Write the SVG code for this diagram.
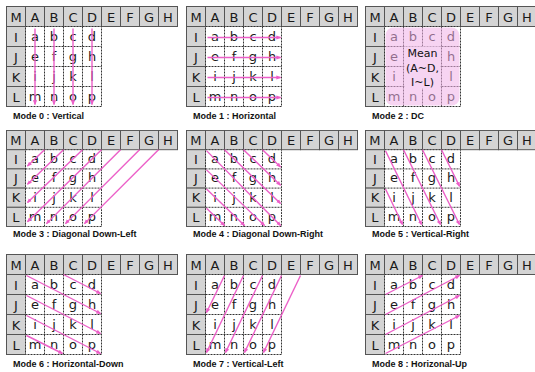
<svg xmlns="http://www.w3.org/2000/svg" width="535" height="372" viewBox="0 0 535 372">
<defs>
<style>
.hc{fill:#d4d4d4;stroke:#555;stroke-width:1}
.bd{fill:#fff;stroke:#333;stroke-width:1;stroke-dasharray:2 1}
.dl{fill:none;stroke:#333;stroke-width:1;stroke-dasharray:2 1}
.t{font-family:"DejaVu Sans",Verdana,sans-serif;font-size:13px;text-anchor:middle;fill:#1a1a1a}
.mt{font-family:"DejaVu Sans",Verdana,sans-serif;font-size:11px;text-anchor:middle;fill:#111}
.lbl{font-family:"Liberation Sans",Arial,sans-serif;font-size:9px;font-weight:bold;fill:#111}
.ar{stroke:#ec5fc8;stroke-width:1.4;fill:none;marker-end:url(#ah)}
</style>
<marker id="ah" viewBox="0 0 6 6" refX="5" refY="3" markerWidth="5" markerHeight="5" orient="auto" markerUnits="userSpaceOnUse"><path d="M0,0.5 L6,3 L0,5.5 z" fill="#ec5fc8"/></marker>
</defs>
<rect width="535" height="372" fill="#fff"/>

<!-- Mode 0 -->
<g id="mode0" transform="translate(6.5,6.5)">
<rect class="hc" x="0" y="0" width="19" height="20"/><rect class="hc" x="19" y="0" width="19" height="20"/><rect class="hc" x="38" y="0" width="19" height="20"/><rect class="hc" x="57" y="0" width="19" height="20"/><rect class="hc" x="76" y="0" width="19" height="20"/><rect class="hc" x="95" y="0" width="19" height="20"/><rect class="hc" x="114" y="0" width="19" height="20"/><rect class="hc" x="133" y="0" width="19" height="20"/><rect class="hc" x="152" y="0" width="19" height="20"/>
<rect class="hc" x="0" y="20" width="19" height="20"/><rect class="hc" x="0" y="40" width="19" height="20"/><rect class="hc" x="0" y="60" width="19" height="20"/><rect class="hc" x="0" y="80" width="19" height="20"/>
<rect class="bd" x="19" y="20" width="76" height="80"/>
<path class="dl" d="M38,20V100M57,20V100M76,20V100M19,40H95M19,60H95M19,80H95"/>
<text class="t" x="9.5" y="15">M</text><text class="t" x="28.5" y="15">A</text><text class="t" x="47.5" y="15">B</text><text class="t" x="66.5" y="15">C</text><text class="t" x="85.5" y="15">D</text><text class="t" x="104.5" y="15">E</text><text class="t" x="123.5" y="15">F</text><text class="t" x="142.5" y="15">G</text><text class="t" x="161.5" y="15">H</text>
<text class="t" x="9.5" y="35">I</text><text class="t" x="9.5" y="55">J</text><text class="t" x="9.5" y="75">K</text><text class="t" x="9.5" y="95">L</text>
<text class="t" x="28.5" y="34">a</text><text class="t" x="47.5" y="34">b</text><text class="t" x="66.5" y="34">c</text><text class="t" x="85.5" y="34">d</text>
<text class="t" x="28.5" y="54">e</text><text class="t" x="47.5" y="54">f</text><text class="t" x="66.5" y="54">g</text><text class="t" x="85.5" y="54">h</text>
<text class="t" x="28.5" y="74">i</text><text class="t" x="47.5" y="74">j</text><text class="t" x="66.5" y="74">k</text><text class="t" x="85.5" y="74">l</text>
<text class="t" x="28.5" y="94">m</text><text class="t" x="47.5" y="94">n</text><text class="t" x="66.5" y="94">o</text><text class="t" x="85.5" y="94">p</text>
</g>
<text class="lbl" x="13" y="119">Mode 0 : Vertical</text>

<!-- Mode 1 -->
<g id="mode1" transform="translate(186.5,6.5)">
<rect class="hc" x="0" y="0" width="19" height="20"/><rect class="hc" x="19" y="0" width="19" height="20"/><rect class="hc" x="38" y="0" width="19" height="20"/><rect class="hc" x="57" y="0" width="19" height="20"/><rect class="hc" x="76" y="0" width="19" height="20"/><rect class="hc" x="95" y="0" width="19" height="20"/><rect class="hc" x="114" y="0" width="19" height="20"/><rect class="hc" x="133" y="0" width="19" height="20"/><rect class="hc" x="152" y="0" width="19" height="20"/>
<rect class="hc" x="0" y="20" width="19" height="20"/><rect class="hc" x="0" y="40" width="19" height="20"/><rect class="hc" x="0" y="60" width="19" height="20"/><rect class="hc" x="0" y="80" width="19" height="20"/>
<rect class="bd" x="19" y="20" width="76" height="80"/>
<path class="dl" d="M38,20V100M57,20V100M76,20V100M19,40H95M19,60H95M19,80H95"/>
<text class="t" x="9.5" y="15">M</text><text class="t" x="28.5" y="15">A</text><text class="t" x="47.5" y="15">B</text><text class="t" x="66.5" y="15">C</text><text class="t" x="85.5" y="15">D</text><text class="t" x="104.5" y="15">E</text><text class="t" x="123.5" y="15">F</text><text class="t" x="142.5" y="15">G</text><text class="t" x="161.5" y="15">H</text>
<text class="t" x="9.5" y="35">I</text><text class="t" x="9.5" y="55">J</text><text class="t" x="9.5" y="75">K</text><text class="t" x="9.5" y="95">L</text>
<text class="t" x="28.5" y="34">a</text><text class="t" x="47.5" y="34">b</text><text class="t" x="66.5" y="34">c</text><text class="t" x="85.5" y="34">d</text>
<text class="t" x="28.5" y="54">e</text><text class="t" x="47.5" y="54">f</text><text class="t" x="66.5" y="54">g</text><text class="t" x="85.5" y="54">h</text>
<text class="t" x="28.5" y="74">i</text><text class="t" x="47.5" y="74">j</text><text class="t" x="66.5" y="74">k</text><text class="t" x="85.5" y="74">l</text>
<text class="t" x="28.5" y="94">m</text><text class="t" x="47.5" y="94">n</text><text class="t" x="66.5" y="94">o</text><text class="t" x="85.5" y="94">p</text>
</g>
<text class="lbl" x="193" y="119">Mode 1 : Horizontal</text>

<!-- Mode 2 -->
<g id="mode2" transform="translate(365.5,6.5)">
<rect class="hc" x="0" y="0" width="19" height="20"/><rect class="hc" x="19" y="0" width="19" height="20"/><rect class="hc" x="38" y="0" width="19" height="20"/><rect class="hc" x="57" y="0" width="19" height="20"/><rect class="hc" x="76" y="0" width="19" height="20"/><rect class="hc" x="95" y="0" width="19" height="20"/><rect class="hc" x="114" y="0" width="19" height="20"/><rect class="hc" x="133" y="0" width="19" height="20"/><rect class="hc" x="152" y="0" width="19" height="20"/>
<rect class="hc" x="0" y="20" width="19" height="20"/><rect class="hc" x="0" y="40" width="19" height="20"/><rect class="hc" x="0" y="60" width="19" height="20"/><rect class="hc" x="0" y="80" width="19" height="20"/>
<rect class="bd" x="19" y="20" width="76" height="80"/>
<path class="dl" d="M38,20V100M57,20V100M76,20V100M19,40H95M19,60H95M19,80H95"/>
<text class="t" x="9.5" y="15">M</text><text class="t" x="28.5" y="15">A</text><text class="t" x="47.5" y="15">B</text><text class="t" x="66.5" y="15">C</text><text class="t" x="85.5" y="15">D</text><text class="t" x="104.5" y="15">E</text><text class="t" x="123.5" y="15">F</text><text class="t" x="142.5" y="15">G</text><text class="t" x="161.5" y="15">H</text>
<text class="t" x="9.5" y="35">I</text><text class="t" x="9.5" y="55">J</text><text class="t" x="9.5" y="75">K</text><text class="t" x="9.5" y="95">L</text>
<text class="t" x="28.5" y="34">a</text><text class="t" x="47.5" y="34">b</text><text class="t" x="66.5" y="34">c</text><text class="t" x="85.5" y="34">d</text>
<text class="t" x="28.5" y="54">e</text><text class="t" x="85.5" y="54">h</text>
<text class="t" x="28.5" y="74">i</text><text class="t" x="85.5" y="74">l</text>
<text class="t" x="28.5" y="94">m</text><text class="t" x="47.5" y="94">n</text><text class="t" x="66.5" y="94">o</text><text class="t" x="85.5" y="94">p</text>
<rect x="20" y="21" width="74" height="78" rx="8" fill="#f0b0e8" opacity="0.55"/>
<rect x="39" y="40" width="36" height="42" fill="#f6d4f2"/>
<text class="mt" x="57" y="50">Mean</text>
<text class="mt" x="57" y="65">(A~D,</text>
<text class="mt" x="57" y="79">I~L)</text>
</g>
<text class="lbl" x="372" y="119">Mode 2 : DC</text>

<!-- Mode 3 -->
<g id="mode3" transform="translate(6.5,130.5) scale(1,0.96)">
<rect class="hc" x="0" y="0" width="19" height="20"/><rect class="hc" x="19" y="0" width="19" height="20"/><rect class="hc" x="38" y="0" width="19" height="20"/><rect class="hc" x="57" y="0" width="19" height="20"/><rect class="hc" x="76" y="0" width="19" height="20"/><rect class="hc" x="95" y="0" width="19" height="20"/><rect class="hc" x="114" y="0" width="19" height="20"/><rect class="hc" x="133" y="0" width="19" height="20"/><rect class="hc" x="152" y="0" width="19" height="20"/>
<rect class="hc" x="0" y="20" width="19" height="20"/><rect class="hc" x="0" y="40" width="19" height="20"/><rect class="hc" x="0" y="60" width="19" height="20"/><rect class="hc" x="0" y="80" width="19" height="20"/>
<rect class="bd" x="19" y="20" width="76" height="80"/>
<path class="dl" d="M38,20V100M57,20V100M76,20V100M19,40H95M19,60H95M19,80H95"/>
<text class="t" x="9.5" y="15">M</text><text class="t" x="28.5" y="15">A</text><text class="t" x="47.5" y="15">B</text><text class="t" x="66.5" y="15">C</text><text class="t" x="85.5" y="15">D</text><text class="t" x="104.5" y="15">E</text><text class="t" x="123.5" y="15">F</text><text class="t" x="142.5" y="15">G</text><text class="t" x="161.5" y="15">H</text>
<text class="t" x="9.5" y="35">I</text><text class="t" x="9.5" y="55">J</text><text class="t" x="9.5" y="75">K</text><text class="t" x="9.5" y="95">L</text>
<text class="t" x="28.5" y="34">a</text><text class="t" x="47.5" y="34">b</text><text class="t" x="66.5" y="34">c</text><text class="t" x="85.5" y="34">d</text>
<text class="t" x="28.5" y="54">e</text><text class="t" x="47.5" y="54">f</text><text class="t" x="66.5" y="54">g</text><text class="t" x="85.5" y="54">h</text>
<text class="t" x="28.5" y="74">i</text><text class="t" x="47.5" y="74">j</text><text class="t" x="66.5" y="74">k</text><text class="t" x="85.5" y="74">l</text>
<text class="t" x="28.5" y="94">m</text><text class="t" x="47.5" y="94">n</text><text class="t" x="66.5" y="94">o</text><text class="t" x="85.5" y="94">p</text>
</g>
<text class="lbl" x="13" y="237">Mode 3 : Diagonal Down-Left</text>

<!-- Mode 4 -->
<g id="mode4" transform="translate(186.5,130.5) scale(1,0.96)">
<rect class="hc" x="0" y="0" width="19" height="20"/><rect class="hc" x="19" y="0" width="19" height="20"/><rect class="hc" x="38" y="0" width="19" height="20"/><rect class="hc" x="57" y="0" width="19" height="20"/><rect class="hc" x="76" y="0" width="19" height="20"/><rect class="hc" x="95" y="0" width="19" height="20"/><rect class="hc" x="114" y="0" width="19" height="20"/><rect class="hc" x="133" y="0" width="19" height="20"/><rect class="hc" x="152" y="0" width="19" height="20"/>
<rect class="hc" x="0" y="20" width="19" height="20"/><rect class="hc" x="0" y="40" width="19" height="20"/><rect class="hc" x="0" y="60" width="19" height="20"/><rect class="hc" x="0" y="80" width="19" height="20"/>
<rect class="bd" x="19" y="20" width="76" height="80"/>
<path class="dl" d="M38,20V100M57,20V100M76,20V100M19,40H95M19,60H95M19,80H95"/>
<text class="t" x="9.5" y="15">M</text><text class="t" x="28.5" y="15">A</text><text class="t" x="47.5" y="15">B</text><text class="t" x="66.5" y="15">C</text><text class="t" x="85.5" y="15">D</text><text class="t" x="104.5" y="15">E</text><text class="t" x="123.5" y="15">F</text><text class="t" x="142.5" y="15">G</text><text class="t" x="161.5" y="15">H</text>
<text class="t" x="9.5" y="35">I</text><text class="t" x="9.5" y="55">J</text><text class="t" x="9.5" y="75">K</text><text class="t" x="9.5" y="95">L</text>
<text class="t" x="28.5" y="34">a</text><text class="t" x="47.5" y="34">b</text><text class="t" x="66.5" y="34">c</text><text class="t" x="85.5" y="34">d</text>
<text class="t" x="28.5" y="54">e</text><text class="t" x="47.5" y="54">f</text><text class="t" x="66.5" y="54">g</text><text class="t" x="85.5" y="54">h</text>
<text class="t" x="28.5" y="74">i</text><text class="t" x="47.5" y="74">j</text><text class="t" x="66.5" y="74">k</text><text class="t" x="85.5" y="74">l</text>
<text class="t" x="28.5" y="94">m</text><text class="t" x="47.5" y="94">n</text><text class="t" x="66.5" y="94">o</text><text class="t" x="85.5" y="94">p</text>
</g>
<text class="lbl" x="193" y="237">Mode 4 : Diagonal Down-Right</text>

<!-- Mode 5 -->
<g id="mode5" transform="translate(365.5,130.5) scale(1,0.96)">
<rect class="hc" x="0" y="0" width="19" height="20"/><rect class="hc" x="19" y="0" width="19" height="20"/><rect class="hc" x="38" y="0" width="19" height="20"/><rect class="hc" x="57" y="0" width="19" height="20"/><rect class="hc" x="76" y="0" width="19" height="20"/><rect class="hc" x="95" y="0" width="19" height="20"/><rect class="hc" x="114" y="0" width="19" height="20"/><rect class="hc" x="133" y="0" width="19" height="20"/><rect class="hc" x="152" y="0" width="19" height="20"/>
<rect class="hc" x="0" y="20" width="19" height="20"/><rect class="hc" x="0" y="40" width="19" height="20"/><rect class="hc" x="0" y="60" width="19" height="20"/><rect class="hc" x="0" y="80" width="19" height="20"/>
<rect class="bd" x="19" y="20" width="76" height="80"/>
<path class="dl" d="M38,20V100M57,20V100M76,20V100M19,40H95M19,60H95M19,80H95"/>
<text class="t" x="9.5" y="15">M</text><text class="t" x="28.5" y="15">A</text><text class="t" x="47.5" y="15">B</text><text class="t" x="66.5" y="15">C</text><text class="t" x="85.5" y="15">D</text><text class="t" x="104.5" y="15">E</text><text class="t" x="123.5" y="15">F</text><text class="t" x="142.5" y="15">G</text><text class="t" x="161.5" y="15">H</text>
<text class="t" x="9.5" y="35">I</text><text class="t" x="9.5" y="55">J</text><text class="t" x="9.5" y="75">K</text><text class="t" x="9.5" y="95">L</text>
<text class="t" x="28.5" y="34">a</text><text class="t" x="47.5" y="34">b</text><text class="t" x="66.5" y="34">c</text><text class="t" x="85.5" y="34">d</text>
<text class="t" x="28.5" y="54">e</text><text class="t" x="47.5" y="54">f</text><text class="t" x="66.5" y="54">g</text><text class="t" x="85.5" y="54">h</text>
<text class="t" x="28.5" y="74">i</text><text class="t" x="47.5" y="74">j</text><text class="t" x="66.5" y="74">k</text><text class="t" x="85.5" y="74">l</text>
<text class="t" x="28.5" y="94">m</text><text class="t" x="47.5" y="94">n</text><text class="t" x="66.5" y="94">o</text><text class="t" x="85.5" y="94">p</text>
</g>
<text class="lbl" x="372" y="237">Mode 5 : Vertical-Right</text>

<!-- Mode 6 -->
<g id="mode6" transform="translate(6.5,254.5)">
<rect class="hc" x="0" y="0" width="19" height="20"/><rect class="hc" x="19" y="0" width="19" height="20"/><rect class="hc" x="38" y="0" width="19" height="20"/><rect class="hc" x="57" y="0" width="19" height="20"/><rect class="hc" x="76" y="0" width="19" height="20"/><rect class="hc" x="95" y="0" width="19" height="20"/><rect class="hc" x="114" y="0" width="19" height="20"/><rect class="hc" x="133" y="0" width="19" height="20"/><rect class="hc" x="152" y="0" width="19" height="20"/>
<rect class="hc" x="0" y="20" width="19" height="20"/><rect class="hc" x="0" y="40" width="19" height="20"/><rect class="hc" x="0" y="60" width="19" height="20"/><rect class="hc" x="0" y="80" width="19" height="20"/>
<rect class="bd" x="19" y="20" width="76" height="80"/>
<path class="dl" d="M38,20V100M57,20V100M76,20V100M19,40H95M19,60H95M19,80H95"/>
<text class="t" x="9.5" y="15">M</text><text class="t" x="28.5" y="15">A</text><text class="t" x="47.5" y="15">B</text><text class="t" x="66.5" y="15">C</text><text class="t" x="85.5" y="15">D</text><text class="t" x="104.5" y="15">E</text><text class="t" x="123.5" y="15">F</text><text class="t" x="142.5" y="15">G</text><text class="t" x="161.5" y="15">H</text>
<text class="t" x="9.5" y="35">I</text><text class="t" x="9.5" y="55">J</text><text class="t" x="9.5" y="75">K</text><text class="t" x="9.5" y="95">L</text>
<text class="t" x="28.5" y="34">a</text><text class="t" x="47.5" y="34">b</text><text class="t" x="66.5" y="34">c</text><text class="t" x="85.5" y="34">d</text>
<text class="t" x="28.5" y="54">e</text><text class="t" x="47.5" y="54">f</text><text class="t" x="66.5" y="54">g</text><text class="t" x="85.5" y="54">h</text>
<text class="t" x="28.5" y="74">i</text><text class="t" x="47.5" y="74">j</text><text class="t" x="66.5" y="74">k</text><text class="t" x="85.5" y="74">l</text>
<text class="t" x="28.5" y="94">m</text><text class="t" x="47.5" y="94">n</text><text class="t" x="66.5" y="94">o</text><text class="t" x="85.5" y="94">p</text>
</g>
<text class="lbl" x="13" y="367">Mode 6 : Horizontal-Down</text>

<!-- Mode 7 -->
<g id="mode7" transform="translate(186.5,254.5)">
<rect class="hc" x="0" y="0" width="19" height="20"/><rect class="hc" x="19" y="0" width="19" height="20"/><rect class="hc" x="38" y="0" width="19" height="20"/><rect class="hc" x="57" y="0" width="19" height="20"/><rect class="hc" x="76" y="0" width="19" height="20"/><rect class="hc" x="95" y="0" width="19" height="20"/><rect class="hc" x="114" y="0" width="19" height="20"/><rect class="hc" x="133" y="0" width="19" height="20"/><rect class="hc" x="152" y="0" width="19" height="20"/>
<rect class="hc" x="0" y="20" width="19" height="20"/><rect class="hc" x="0" y="40" width="19" height="20"/><rect class="hc" x="0" y="60" width="19" height="20"/><rect class="hc" x="0" y="80" width="19" height="20"/>
<rect class="bd" x="19" y="20" width="76" height="80"/>
<path class="dl" d="M38,20V100M57,20V100M76,20V100M19,40H95M19,60H95M19,80H95"/>
<text class="t" x="9.5" y="15">M</text><text class="t" x="28.5" y="15">A</text><text class="t" x="47.5" y="15">B</text><text class="t" x="66.5" y="15">C</text><text class="t" x="85.5" y="15">D</text><text class="t" x="104.5" y="15">E</text><text class="t" x="123.5" y="15">F</text><text class="t" x="142.5" y="15">G</text><text class="t" x="161.5" y="15">H</text>
<text class="t" x="9.5" y="35">I</text><text class="t" x="9.5" y="55">J</text><text class="t" x="9.5" y="75">K</text><text class="t" x="9.5" y="95">L</text>
<text class="t" x="28.5" y="34">a</text><text class="t" x="47.5" y="34">b</text><text class="t" x="66.5" y="34">c</text><text class="t" x="85.5" y="34">d</text>
<text class="t" x="28.5" y="54">e</text><text class="t" x="47.5" y="54">f</text><text class="t" x="66.5" y="54">g</text><text class="t" x="85.5" y="54">h</text>
<text class="t" x="28.5" y="74">i</text><text class="t" x="47.5" y="74">j</text><text class="t" x="66.5" y="74">k</text><text class="t" x="85.5" y="74">l</text>
<text class="t" x="28.5" y="94">m</text><text class="t" x="47.5" y="94">n</text><text class="t" x="66.5" y="94">o</text><text class="t" x="85.5" y="94">p</text>
</g>
<text class="lbl" x="193" y="367">Mode 7 : Vertical-Left</text>

<!-- Mode 8 -->
<g id="mode8" transform="translate(365.5,254.5)">
<rect class="hc" x="0" y="0" width="19" height="20"/><rect class="hc" x="19" y="0" width="19" height="20"/><rect class="hc" x="38" y="0" width="19" height="20"/><rect class="hc" x="57" y="0" width="19" height="20"/><rect class="hc" x="76" y="0" width="19" height="20"/><rect class="hc" x="95" y="0" width="19" height="20"/><rect class="hc" x="114" y="0" width="19" height="20"/><rect class="hc" x="133" y="0" width="19" height="20"/><rect class="hc" x="152" y="0" width="19" height="20"/>
<rect class="hc" x="0" y="20" width="19" height="20"/><rect class="hc" x="0" y="40" width="19" height="20"/><rect class="hc" x="0" y="60" width="19" height="20"/><rect class="hc" x="0" y="80" width="19" height="20"/>
<rect class="bd" x="19" y="20" width="76" height="80"/>
<path class="dl" d="M38,20V100M57,20V100M76,20V100M19,40H95M19,60H95M19,80H95"/>
<text class="t" x="9.5" y="15">M</text><text class="t" x="28.5" y="15">A</text><text class="t" x="47.5" y="15">B</text><text class="t" x="66.5" y="15">C</text><text class="t" x="85.5" y="15">D</text><text class="t" x="104.5" y="15">E</text><text class="t" x="123.5" y="15">F</text><text class="t" x="142.5" y="15">G</text><text class="t" x="161.5" y="15">H</text>
<text class="t" x="9.5" y="35">I</text><text class="t" x="9.5" y="55">J</text><text class="t" x="9.5" y="75">K</text><text class="t" x="9.5" y="95">L</text>
<text class="t" x="28.5" y="34">a</text><text class="t" x="47.5" y="34">b</text><text class="t" x="66.5" y="34">c</text><text class="t" x="85.5" y="34">d</text>
<text class="t" x="28.5" y="54">e</text><text class="t" x="47.5" y="54">f</text><text class="t" x="66.5" y="54">g</text><text class="t" x="85.5" y="54">h</text>
<text class="t" x="28.5" y="74">i</text><text class="t" x="47.5" y="74">j</text><text class="t" x="66.5" y="74">k</text><text class="t" x="85.5" y="74">l</text>
<text class="t" x="28.5" y="94">m</text><text class="t" x="47.5" y="94">n</text><text class="t" x="66.5" y="94">o</text><text class="t" x="85.5" y="94">p</text>
</g>
<text class="lbl" x="372" y="367">Mode 8 : Horizonal-Up</text>

<g id="connectors">
<g transform="translate(6.5,6.5)">
<path class="ar" d="M28.5,22V98"/><path class="ar" d="M47.5,22V98"/><path class="ar" d="M66.5,22V98"/><path class="ar" d="M85.5,22V98"/>
</g>
<g transform="translate(186.5,6.5)">
<path class="ar" d="M21,31H94"/><path class="ar" d="M21,51H94"/><path class="ar" d="M21,71H94"/><path class="ar" d="M21,91H94"/>
</g>
<g transform="translate(6.5,130.5) scale(1,0.96)">
<path class="ar" d="M38,20L21,37"/><path class="ar" d="M57,20L21,56"/><path class="ar" d="M76,20L21,75"/><path class="ar" d="M95,20L21,95"/><path class="ar" d="M114,20L40,97"/><path class="ar" d="M133,20L59,97"/><path class="ar" d="M152,20L78,97"/>
</g>
<g transform="translate(186.5,130.5) scale(1,0.96)">
<path class="ar" d="M20,21L94,99"/><path class="ar" d="M38,20L94,76"/><path class="ar" d="M57,20L94,57"/><path class="ar" d="M76,20L94,38"/><path class="ar" d="M20,41L78,99"/><path class="ar" d="M20,61L58,99"/><path class="ar" d="M20,81L38,99"/>
</g>
<g transform="translate(365.5,130.5) scale(1,0.96)">
<path class="ar" d="M20,21L56,98"/><path class="ar" d="M38,20L75,98"/><path class="ar" d="M57,20L94,98"/><path class="ar" d="M76,20L94,58"/><path class="ar" d="M20,61L37,98"/>
</g>
<g transform="translate(6.5,254.5)">
<path class="ar" d="M20,21L94,59"/><path class="ar" d="M57,20L94,39"/><path class="ar" d="M20,41L94,79"/><path class="ar" d="M20,61L94,99"/><path class="ar" d="M20,81L56,99"/>
</g>
<g transform="translate(186.5,254.5)">
<path class="ar" d="M38,21L20,58"/><path class="ar" d="M57,21L20,98"/><path class="ar" d="M76,21L39,98"/><path class="ar" d="M95,21L58,98"/><path class="ar" d="M114,21L77,98"/>
</g>
<g transform="translate(365.5,254.5)">
<path class="ar" d="M20,40L57,21"/><path class="ar" d="M20,60L94,21"/><path class="ar" d="M20,80L94,41"/><path class="ar" d="M20,99L94,61"/>
</g>
</g>
</svg>
